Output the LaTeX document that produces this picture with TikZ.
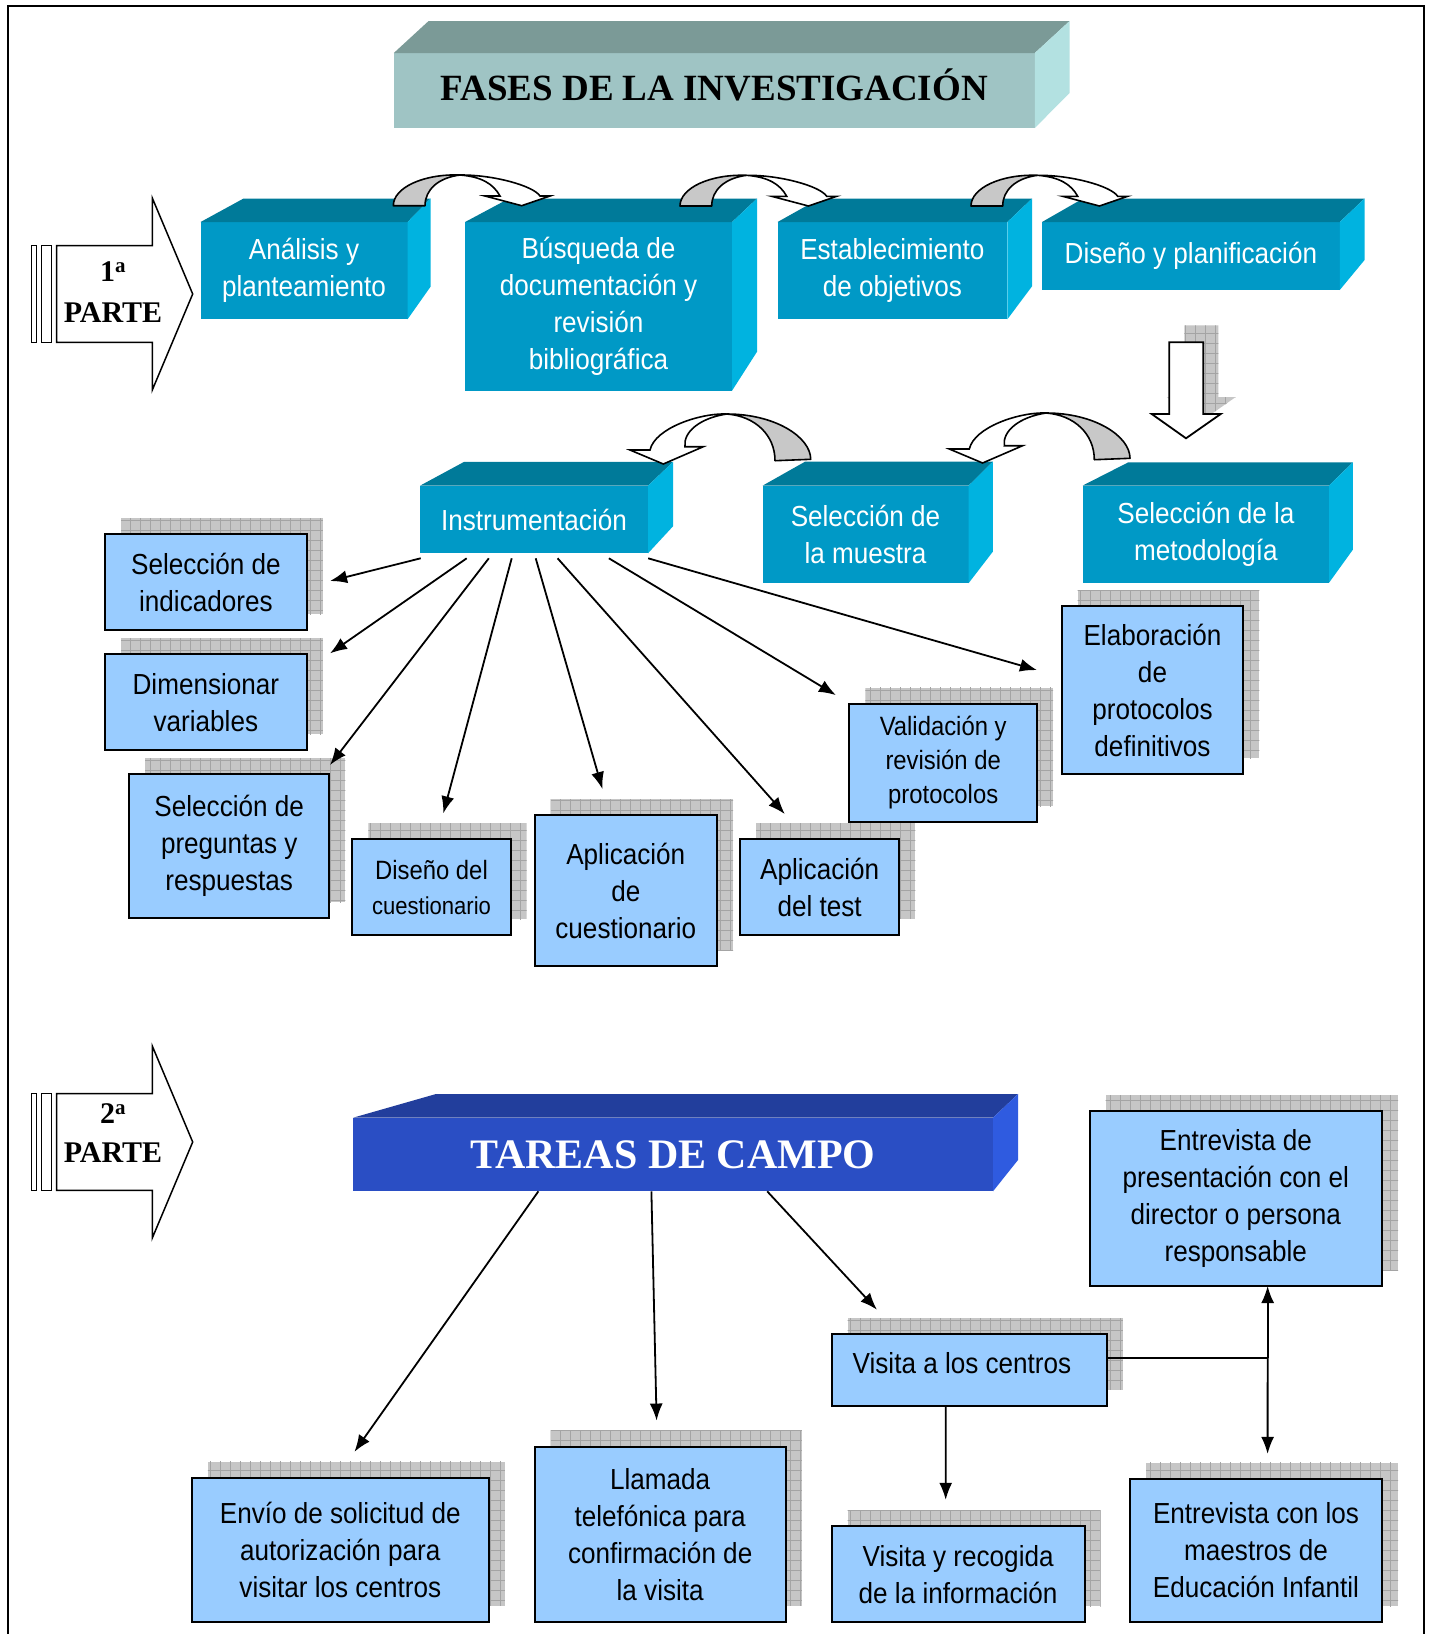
\documentclass[tikz,border=0pt]{standalone}
\usepackage{fontspec}
\setmainfont{Liberation Sans}[FakeStretch=0.9]
\newfontfamily\serifface{Liberation Serif}
\usetikzlibrary{arrows.meta,calc}
\pgfdeclarelayer{bglayer}
\pgfdeclarelayer{shadowlayer}
\pgfsetlayers{bglayer,shadowlayer,main}

\definecolor{cfront}{HTML}{0099C6}
\definecolor{ctop}{HTML}{007A99}
\definecolor{cside}{HTML}{00B3E0}
\definecolor{tfront}{HTML}{9FC4C4}
\definecolor{ttop}{HTML}{7B9A97}
\definecolor{tside}{HTML}{B3E1E1}
\definecolor{bfront}{HTML}{2A4EC4}
\definecolor{btop}{HTML}{223E9C}
\definecolor{bside}{HTML}{2F5BE0}
\definecolor{lblue}{HTML}{99CCFF}
\definecolor{shfillc}{HTML}{C6C6C6}
\definecolor{shlinec}{HTML}{A4A4A4}
\definecolor{argray}{HTML}{C8C8C8}

\tikzset{
  cubefront/.style={fill=#1, inner sep=0pt, outer sep=0pt, align=center, text=white,
    font=\fontsize{29}{37}\selectfont},
  lbox/.style={draw=black, line width=2pt, fill=lblue, inner sep=0pt, outer sep=0pt,
    align=center, font=\fontsize{29}{37}\selectfont},
  sz/.style 2 args={minimum width=#1, minimum height=#2},
  conn/.style={draw=black, line width=1.8pt, -{Latex[length=17pt,width=13pt]}},
  outl/.style={draw=black, line width=1.8pt, line join=miter},
  gridln/.style={draw=shlinec, line width=0.9pt, step=10pt},
  curvright/.pic={
    \filldraw[fill=argray, draw=black, line width=1.6pt, line join=round]
      (0,0) .. controls (0,-18) and (30,-32) .. (66.7,-30.7)
      .. controls (45,-28) and (31.7,-16) .. (31.7,0) -- cycle;
    \filldraw[fill=white, draw=black, line width=1.6pt, line join=miter]
      (66.7,-30.7) .. controls (100,-31) and (140,-20) .. (146.7,-9.7)
      -- (156.7,-9.7) -- (128.4,0) -- (91.7,-9.7) -- (106.7,-9.7)
      .. controls (100,-22) and (88,-29) .. (66.7,-30.7) -- cycle;
  },
  curvleft/.pic={
    \filldraw[fill=argray, draw=black, line width=1.6pt, line join=round]
      (0,0) .. controls (0,-22.3) and (-35.7,-45.3) .. (-84,-45.3)
      .. controls (-55.7,-43.3) and (-35.7,-24.3) .. (-35.7,1.4) -- cycle;
    \filldraw[fill=white, draw=black, line width=1.6pt, line join=miter]
      (-84,-45.3) .. controls (-110.7,-46.3) and (-155.7,-31.3) .. (-160.7,-9.3)
      -- (-180.7,-9.3) -- (-147.4,4.7) -- (-107.4,-12.6) -- (-125.7,-12.6)
      .. controls (-127.7,-27.3) and (-110.7,-41.3) .. (-84,-45.3) -- cycle;
  },
}

% top and right faces of a block: node, top colour, side colour, dl, dt, dr, db
\newcommand\cubefaces[7]{%
  \fill[#2] (#1.north west) -- ([shift={(#4,-#5)}]#1.north west)
    -- ([shift={(#6,-#5)}]#1.north east) -- (#1.north east) -- cycle;
  \fill[#3] (#1.north east) -- ([shift={(#6,-#5)}]#1.north east)
    -- ([shift={(#6,-#7)}]#1.south east) -- (#1.south east) -- cycle;
}

% grid-textured shadow behind a box node
\newcommand\gshadow[1]{%
  \begin{scope}
    \clip ([shift={(16,-16)}]#1.south west) rectangle ([shift={(16,-16)}]#1.north east);
    \fill[shfillc] ([shift={(16,-16)}]#1.south west) rectangle ([shift={(16,-16)}]#1.north east);
    \draw[gridln] (#1.south west) grid ([shift={(40,-40)}]#1.north east);
  \end{scope}}

% wide block arrow with two bars, centred on y = 0
\newcommand\partarrow{%
  \draw[outl, line width=1.5pt, fill=white] (31.7,-48.3) rectangle (36.7,48.3);
  \draw[outl, line width=1.5pt, fill=white] (41.7,-48.3) rectangle (51.7,48.3);
  \draw[outl, line width=1.5pt, fill=white] (56.7,-48.3) -- (152.3,-48.3) -- (152.3,-96)
    -- (192.7,0) -- (152.3,96) -- (152.3,48.3) -- (56.7,48.3) -- cycle;
}

\begin{document}
\begin{tikzpicture}[x=1pt, y=-1pt]
\useasboundingbox (0,0) rectangle (1433,1634);
\begin{pgfonlayer}{bglayer}
  \fill[white] (0,0) rectangle (1433,1634);
\end{pgfonlayer}

% page frame
\draw[line width=2pt] (8,1640) -- (8,6) -- (1424,6) -- (1424,1640);

% title block
\node[cubefront=tfront, sz={641pt}{75pt}, text=black,
      font=\serifface\bfseries\fontsize{37}{44}\selectfont] (title) at (714.3,90.5)
      {\raisebox{6pt}[\height][\depth]{FASES DE LA INVESTIGACIÓN}};
\cubefaces{title}{ttop}{tside}{34.8}{32}{34.8}{35}

% part markers
\begin{scope}[shift={(0,294)}]
  \partarrow
  \node[align=center, font=\serifface\bfseries\fontsize{30}{41}\selectfont] (part1) at (113,-2)
    {1\textsuperscript{a}\\PARTE};
\end{scope}
\begin{scope}[shift={(0,1142)}]
  \partarrow
  \node[align=center, font=\serifface\bfseries\fontsize{30}{39.6}\selectfont] (part2) at (113,-9)
    {2\textsuperscript{a}\\PARTE};
\end{scope}

% first row of phases
\node[cubefront=cfront, sz={207pt}{97.3pt}] (c1) at (304,270.7) {Análisis y\\planteamiento};
\cubefaces{c1}{ctop}{cside}{43}{23.5}{23}{32.6}
\node[cubefront=cfront, sz={267pt}{168.7pt}] (c2) at (598.5,306.4)
  {Búsqueda de\\documentación y\\revisión\\bibliográfica};
\cubefaces{c2}{ctop}{cside}{44}{23.5}{25}{39}
\node[cubefront=cfront, sz={229.8pt}{97.3pt}] (c3) at (892.4,270.7) {Establecimiento\\de objetivos};
\cubefaces{c3}{ctop}{cside}{42}{23.5}{24.7}{33}
\node[cubefront=cfront, sz={297.7pt}{68pt}] (c4) at (1190.9,256) {Diseño y planificación};
\cubefaces{c4}{ctop}{cside}{41}{23.5}{24.8}{30}

% second row of phases
\node[cubefront=cfront, sz={228pt}{67.6pt}] (c5) at (534,519.5) {Instrumentación};
\cubefaces{c5}{ctop}{cside}{44}{23.8}{25}{27}
\node[cubefront=cfront, sz={206pt}{97.6pt}] (c6) at (865.5,534.5) {Selección de\\la muestra};
\cubefaces{c6}{ctop}{cside}{42.5}{24}{24.3}{31.6}
\node[cubefront=cfront, sz={246.3pt}{97.2pt}] (c7) at (1205.9,534.1) {Selección de la\\metodología};
\cubefaces{c7}{ctop}{cside}{45.6}{23.2}{23.8}{33}

% curved arrows between phases
\pic at (393.3,205.7) {curvright};
\pic at (680,206) {curvright};
\pic at (971,206) {curvright};
\pic at (810.7,459.3) {curvleft};
\pic at (1130,458.3) {curvleft};

% down block arrow with its shadow
\begin{scope}[shift={(15,-17)}]
  \clip (1169.3,342.3) -- (1203.3,342.3) -- (1203.3,414) -- (1220.7,414) -- (1186,438.3)
    -- (1151.7,414) -- (1169.3,414) -- cycle;
  \fill[shfillc] (1140,320) rectangle (1240,450);
  \draw[gridln] (1140,320) grid (1240,450);
\end{scope}
\draw[outl, fill=white] (1169.3,342.3) -- (1203.3,342.3) -- (1203.3,414) -- (1220.7,414)
  -- (1186,438.3) -- (1151.7,414) -- (1169.3,414) -- cycle;

% instrumentation tasks
\node[lbox, sz={201.7pt}{95.7pt}] (b1) at (205.9,582.2) {Selección de\\indicadores};
\node[lbox, sz={201.7pt}{95.7pt}] (b2) at (205.9,702.2) {Dimensionar\\variables};
\node[lbox, sz={200.3pt}{144pt}] (b3) at (229.2,846.3) {Selección de\\preguntas y\\respuestas};
\node[lbox, sz={158.4pt}{95.7pt}, font=\fontsize{26.5}{35}\selectfont] (b4) at (431.5,887.2)
  {Diseño del\\{\fontsize{24.5}{35}\selectfont cuestionario}};
\node[lbox, sz={182.4pt}{151pt}] (b5) at (625.8,890.5) {Aplicación\\de\\cuestionario};
\node[lbox, sz={159.4pt}{95.9pt}] (b6) at (819.7,887) {Aplicación\\del test};
\node[lbox, sz={187.6pt}{118.8pt}, font=\fontsize{26.5}{34}\selectfont] (b7) at (943.2,762.9)
  {Validación y\\revisión de\\protocolos};
\node[lbox, sz={181.6pt}{168pt}] (b8) at (1152.5,690) {Elaboración\\de\\protocolos\\definitivos};

\draw[conn] ([shift={(0.7,5)}]c5.south west) -- ([shift={(23.3,-1.2)}]b1.east);
\draw[conn] ([shift={(46.7,5)}]c5.south west) -- ([shift={(23.3,-1)}]b2.north east);
\draw[conn] ([shift={(68.8,5)}]c5.south west) -- ([shift={(0.7,-9.3)}]b3.north east);
\draw[conn] ([shift={(91.7,5)}]c5.south west) -- ([shift={(11.8,-26)}]b4.north);
\draw[conn] ([shift={(115.7,5)}]c5.south west) -- ([shift={(-23.4,-26)}]b5.north);
\draw[conn] ([shift={(137.6,5)}]c5.south west) -- ([shift={(-34.9,-25)}]b6.north);
\draw[conn] ([shift={(188.9,5)}]c5.south west) -- ([shift={(-13.5,-8.4)}]b7.north west);
\draw[conn] ([shift={(0.2,5)}]c5.south east) -- ([shift={(-24.7,-19.9)}]b8.west);

% field work
\node[cubefront=bfront, sz={640pt}{73.6pt},
      font=\serifface\bfseries\fontsize{42}{48}\selectfont] (tar) at (673,1154.5)
      {TAREAS DE CAMPO};
\cubefaces{tar}{btop}{bside}{83}{23.7}{25}{31.3}

\node[lbox, sz={292.5pt}{175pt}] (p1) at (1235.8,1198.5)
  {Entrevista de\\presentación con el\\director o persona\\responsable};
\node[lbox, sz={275.3pt}{71.4pt}] (p2) at (969.3,1370.1) {};
\node[anchor=west, inner sep=0pt, font=\fontsize{29}{37}\selectfont] (p2t) at (852.5,1363)
  {Visita a los centros};
\node[lbox, sz={253pt}{96.4pt}] (p3) at (958.1,1574.2) {Visita y recogida\\de la información};
\node[lbox, sz={252pt}{143.8pt}] (p4) at (1256,1550.5)
  {Entrevista con los\\maestros de\\Educación Infantil};
\node[lbox, sz={297pt}{143.9pt}] (p5) at (340.3,1549.8)
  {Envío de solicitud de\\autorización para\\visitar los centros};
\node[lbox, sz={251.2pt}{175.1pt}] (p6) at (660.2,1534.2)
  {Llamada\\telefónica para\\confirmación de\\la visita};

\draw[conn] ([shift={(185.4,0)}]tar.south west) -- ([shift={(14.1,-26)}]p5.north);
\draw[conn] ([shift={(298.4,0)}]tar.south west) -- ([shift={(-3.6,-26.1)}]p6.north);
\draw[conn] ([shift={(414.2,0)}]tar.south west) -- ([shift={(45.3,-24.7)}]p2.north west);
\draw[conn] ([shift={(-23.6,0)}]p2.south) -- ([shift={(-12.4,-26.2)}]p3.north);
\coordinate (jn) at ([shift={(160.7,-12)}]p2.east);
\draw[line width=1.8pt] ([shift={(0,-12)}]p2.east) -- (jn);
\draw[conn] (jn) -- (jn |- p1.south);
\draw[conn] (jn) -- ([shift={(11.6,-24.7)}]p4.north);

% shadows behind the task boxes
\begin{pgfonlayer}{shadowlayer}
  \gshadow{b1}\gshadow{b2}\gshadow{b3}\gshadow{b4}
  \gshadow{b5}\gshadow{b6}\gshadow{b7}\gshadow{b8}
  \gshadow{p1}\gshadow{p2}\gshadow{p3}\gshadow{p4}\gshadow{p5}\gshadow{p6}
\end{pgfonlayer}
\end{tikzpicture}
\end{document}
